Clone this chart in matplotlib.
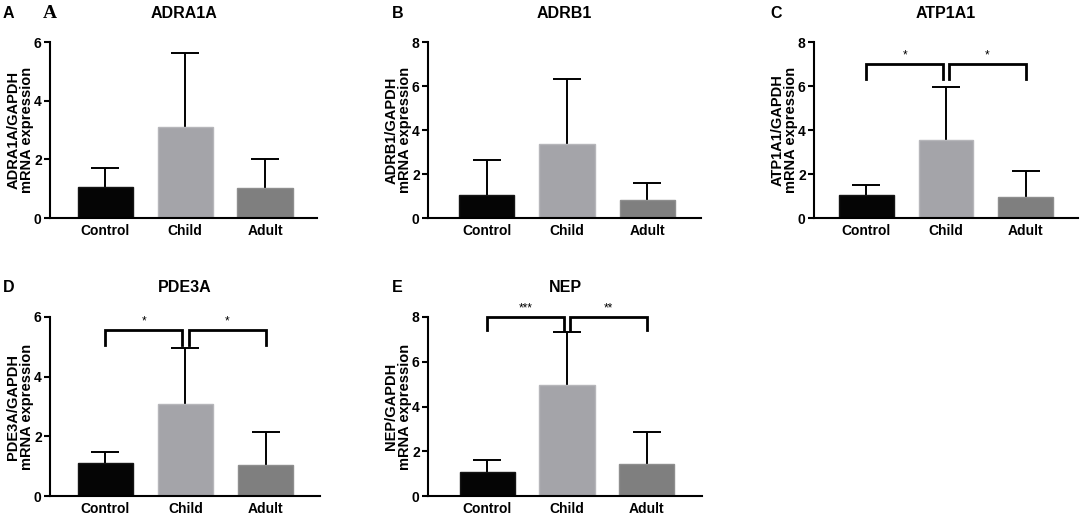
import matplotlib
matplotlib.use("Agg")
import matplotlib.pyplot as plt

plt.rcParams['font.family'] = ['Liberation Sans', 'DejaVu Sans']
plt.rcParams['font.weight'] = 'bold'

# --- data ---
groups = ["Control", "Child", "Adult"]
genes = ["ADRA1A", "ADRB1", "ATP1A1", "PDE3A", "NEP"]
panel_letters = ["A", "B", "C", "D", "E"]

mean_adra1a = [1.05, 3.11, 1.01]
sd_adra1a = [0.65, 2.50, 1.01]
mean_adrb1 = [1.06, 3.35, 0.82]
sd_adrb1 = [1.58, 2.98, 0.79]
mean_atp1a1 = [1.06, 3.55, 0.97]
sd_atp1a1 = [0.44, 2.42, 1.18]
mean_pde3a = [1.12, 3.07, 1.03]
sd_pde3a = [0.34, 1.89, 1.13]
mean_nep = [1.08, 4.96, 1.42]
sd_nep = [0.52, 2.38, 1.45]

ymax = [6, 8, 8, 6, 8]

# significance brackets: (top, leg bottom, left stars, right stars)
sig_atp1a1 = (7.0, 6.33, "*", "*")
sig_pde3a = (5.58, 5.07, "*", "*")
sig_nep = (8.0, 7.44, "***", "**")

bar_colors = ["#050505", "#a4a4a9", "#7f7f7f"]
edge_colors = ["#151515", "#b6b6ba", "#8e8e8e"]

means = [mean_adra1a, mean_adrb1, mean_atp1a1, mean_pde3a, mean_nep]
sds = [sd_adra1a, sd_adrb1, sd_atp1a1, sd_pde3a, sd_nep]
sigs = [None, None, sig_atp1a1, sig_pde3a, sig_nep]

W, H = 1084, 518
fig = plt.figure(figsize=(W / 100, H / 100), dpi=100)

# axes boxes in pixels: left, right, top, bottom
boxes = [(50, 317, 42, 218), (428, 701, 42, 218), (814, 1078, 42, 218),
         (50, 320, 317, 496), (428, 702, 317, 496)]
xlims = [(-0.69, 2.65), (-0.73, 2.67), (-0.66, 2.66), (-0.69, 2.68), (-0.74, 2.69)]
letter_x = [3, 392, 770, 3, 392]

for i in range(5):
    l, r, t, b = boxes[i]
    ax = fig.add_axes([l / W, 1 - b / H, (r - l) / W, (b - t) / H])
    x = list(range(len(groups)))
    tops = [m + s for m, s in zip(means[i], sds[i])]
    ax.vlines(x, means[i], tops, color="black", lw=1.4, zorder=1)
    ax.plot(x, tops, ls="none", marker="_", markersize=19.5, mew=1.4, color="black", zorder=1)
    ax.bar(x, means[i], width=0.69, color=bar_colors, edgecolor=edge_colors,
           linewidth=1, zorder=2)
    ax.set_xlim(*xlims[i])
    ax.set_ylim(0, ymax[i])
    ax.set_yticks(range(0, ymax[i] + 1, 2))
    ax.set_xticks(x)
    ax.set_xticklabels(groups, fontsize=10, fontweight="bold")
    ax.set_yticklabels([str(v) for v in range(0, ymax[i] + 1, 2)], fontsize=10,
                       fontweight="bold")
    for s in ["top", "right"]:
        ax.spines[s].set_visible(False)
    for s in ["left", "bottom"]:
        ax.spines[s].set_linewidth(1.5)
    ax.tick_params(axis="y", length=4, width=1.5, pad=2)
    ax.tick_params(axis="x", length=0, pad=4)
    ax.set_ylabel(genes[i] + "/GAPDH\nmRNA expression", fontsize=10.5, fontweight="bold",
                  linespacing=0.95)
    ax.yaxis.set_label_coords(-30 / (r - l), 0.5)
    ax.yaxis.label.set_horizontalalignment("center")
    ax.yaxis.label.set_verticalalignment("center")

    ty = 13 if t < 100 else 288
    fig.text((l + r) / 2 / W, 1 - ty / H, genes[i], fontsize=11.5, fontweight="bold",
             ha="center", va="center")
    fig.text(letter_x[i] / W, 1 - ty / H, panel_letters[i], fontsize=11.5,
             fontweight="bold", ha="left", va="center")

    sig = sigs[i]
    if sig is not None:
        top, leg, s1, s2 = sig
        gap = 0.04
        for x0, x1, st in [(0, 1 - gap, s1), (1 + gap, 2, s2)]:
            ax.plot([x0, x0, x1, x1], [leg, top, top, leg], color="black", lw=2,
                    clip_on=False, solid_joinstyle="miter", zorder=3)
            ax.text((x0 + x1) / 2, top + ymax[i] * 0.012, st, ha="center", va="bottom",
                    fontsize=8.5, fontweight="normal", clip_on=False)

# extra serif "A" next to the first panel letter
fig.text(43 / W, 1 - 13 / H, "A", fontsize=14, fontweight="bold",
         family=["Liberation Serif", "DejaVu Serif"], ha="left", va="center")

fig.savefig("out.png", dpi=100)
